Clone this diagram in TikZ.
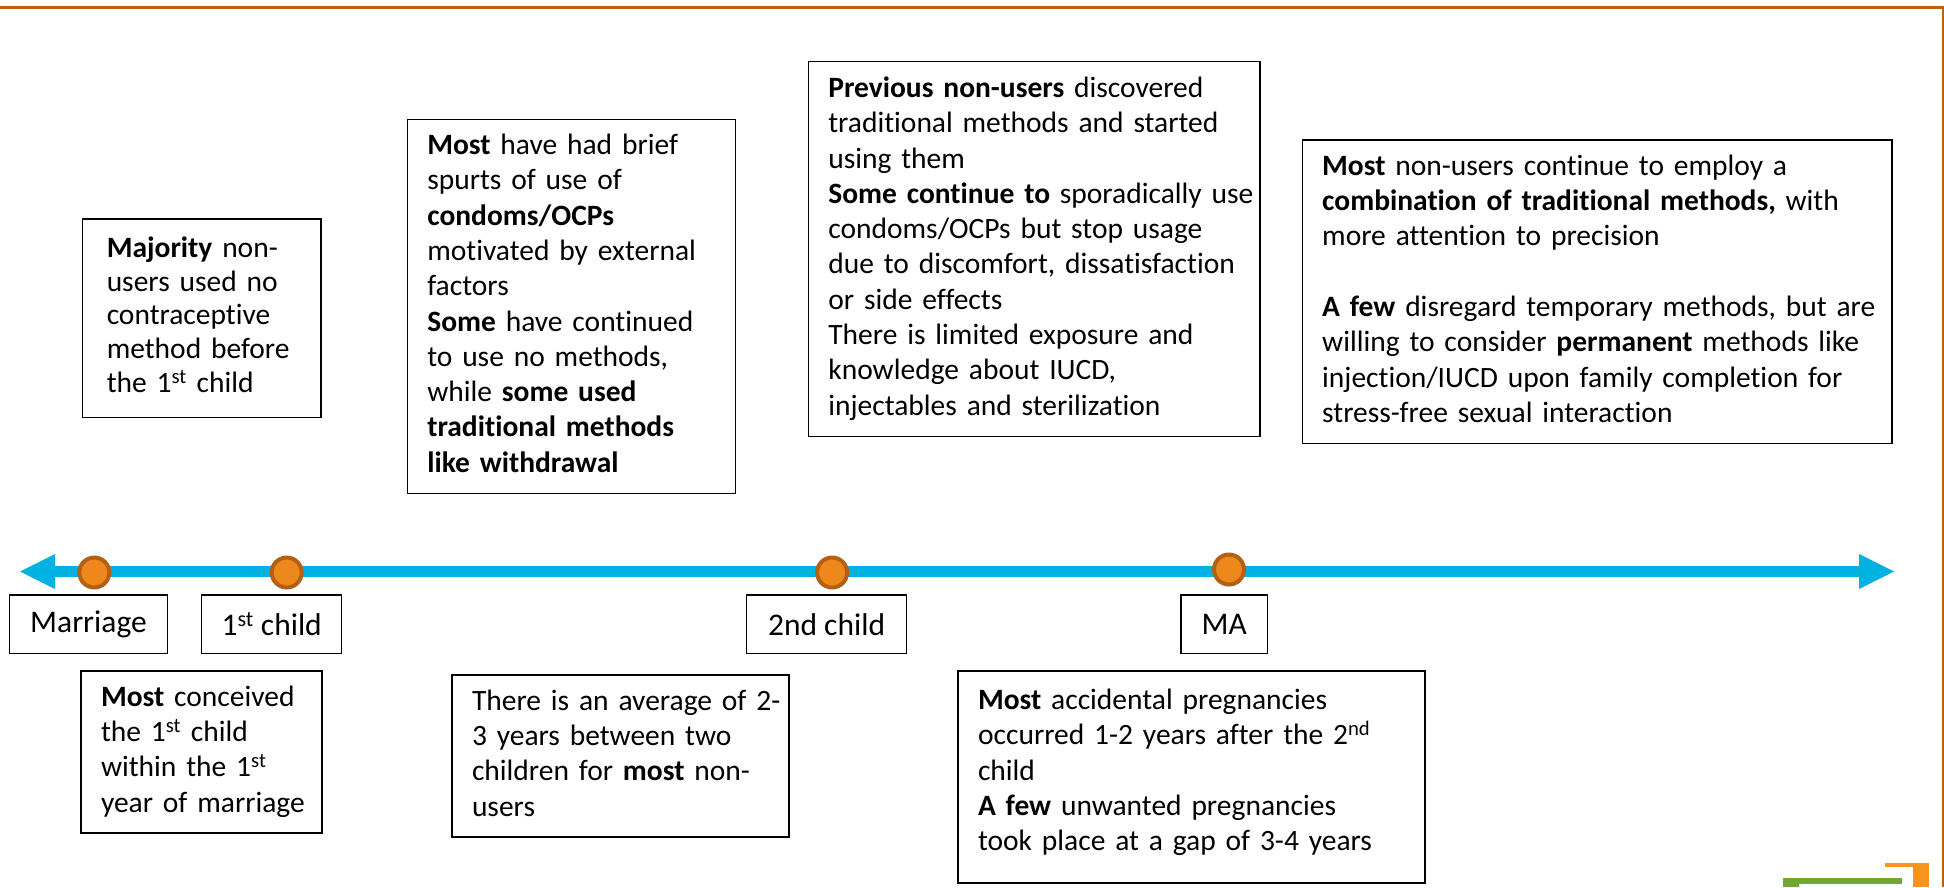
\documentclass[tikz,border=0pt]{standalone}
\usepackage{fontspec}
\setmainfont{Carlito}[Ligatures=NoCommon]
\definecolor{tlcyan}{RGB}{0,178,226}
\definecolor{dotfill}{RGB}{238,135,28}
\definecolor{dotedge}{RGB}{180,96,20}
\definecolor{framecol}{RGB}{184,98,20}
\definecolor{logoorange}{RGB}{247,148,30}
\definecolor{logogreen}{RGB}{114,167,52}
\newcommand{\boxlines}[1]{\begin{tabular}{@{}l@{}}#1\end{tabular}}
\begin{document}
\begin{tikzpicture}[x=1pt,y=-1pt,
  infobox/.style={draw=black, line width=1.2pt, rectangle, inner xsep=20pt, inner ysep=0pt,
    align=left, font=\fontsize{29.5}{35.3}\selectfont},
  tlabel/.style={draw=black, line width=1.2pt, rectangle, inner sep=0pt,
    minimum height=58.3pt, font=\fontsize{31.5}{36}\selectfont},
  tdot/.style={circle, draw=dotedge, fill=dotfill, line width=4pt, minimum size=30pt, inner sep=0pt},
  tline/.style={tlcyan, line width=11.5pt},
  thead/.style={fill=tlcyan},
  frameline/.style={framecol, line width=3pt}
]
\useasboundingbox (0,0) rectangle (1944,887);
\fill[white] (0,0) rectangle (1944,887);

% frame
\draw[frameline] (0,7) -- (1943,7) -- (1943,887);

% logo fragment
\fill[logoorange] (1885,863) rectangle (1929,866.5);
\fill[logoorange] (1913,863) rectangle (1929,887);
\fill[logogreen] (1783,878) rectangle (1902,883.5);
\fill[logogreen] (1783,878) rectangle (1799,887);

% timeline
\coordinate (tlL) at (20,571.5);
\coordinate (tlR) at (1894,571.5);
\draw[tline] ([xshift=34pt]tlL) -- ([xshift=-34pt]tlR);
\fill[thead] (tlL) -- ++(35,-17.5) -- ++(0,35) -- cycle;
\fill[thead] (tlR) -- ++(-35,-17.5) -- ++(0,35) -- cycle;

% dots
\node[tdot] (dm) at (94.3,572.5) {};
\node[tdot] (d1) at (286.7,572.5) {};
\node[tdot] (d2) at (832.1,572.5) {};
\node[tdot] (dma) at (1229,569.5) {};

% labels
\node[tlabel, minimum width=158.4pt] (lm) at (88.5,624.2) {Marriage};
\node[tlabel, minimum width=140pt] (l1) at (271.7,624.2) {1\textsuperscript{st} child};
\node[tlabel, minimum width=159.6pt] (l2) at (826.6,624.2) {2nd child};
\node[tlabel, minimum width=86.3pt] (lma) at (1224.2,624.2) {MA};

% upper boxes
\node[infobox, inner xsep=24pt, minimum width=238.3pt, minimum height=198.3pt, text width=190.3pt,
  font=\fontsize{29.5}{33.8}\selectfont] (maj) at (201.9,318.2)
 {\boxlines{\textbf{Majority} non-\\users used no\\contraceptive\\method before\\the 1\textsuperscript{st} child}};

\node[infobox, minimum width=328.4pt, minimum height=374pt, text width=288.4pt] (mhh) at (571.5,306.3)
 {\boxlines{\textbf{Most} have had brief\\spurts of use of\\\textbf{condoms/OCPs}\\motivated by external\\factors\\\textbf{Some} have continued\\to use no methods,\\while \textbf{some used}\\\textbf{traditional methods}\\\textbf{like withdrawal}}};

\node[infobox, minimum width=451.7pt, minimum height=375pt, text width=411.7pt] (prev) at (1034.2,249.2)
 {\boxlines{\textbf{Previous non-users} discovered\\traditional methods and started\\using them\\\textbf{Some continue to} sporadically use\\condoms/OCPs but stop usage\\due to discomfort, dissatisfaction\\or side effects\\There is limited exposure and\\knowledge about IUCD,\\injectables and sterilization}};

\node[infobox, minimum width=589.8pt, minimum height=303.3pt, text width=549.8pt] (mnu) at (1597.1,291.7)
 {\boxlines{\textbf{Most} non-users continue to employ a\\\textbf{combination of traditional methods,} with\\more attention to precision\\ \\\textbf{A few} disregard temporary methods, but are\\willing to consider \textbf{permanent} methods like\\injection/IUCD upon family completion for\\stress-free sexual interaction}};

% lower boxes
\node[infobox, minimum width=241pt, minimum height=162pt, text width=201pt] (mc) at (201.5,752)
 {\boxlines{\textbf{Most} conceived\\the 1\textsuperscript{st} child\\within the 1\textsuperscript{st}\\year of marriage}};

\node[infobox, minimum width=337pt, minimum height=162pt, text width=297pt] (avg) at (620.5,756)
 {\boxlines{There is an average of 2-\\3 years between two\\children for \textbf{most} non-\\users}};

\node[infobox, minimum width=467pt, minimum height=212pt, text width=427pt] (acc) at (1191.5,777)
 {\boxlines{\textbf{Most} accidental pregnancies\\occurred 1-2 years after the 2\textsuperscript{nd}\\child\\\textbf{A few} unwanted pregnancies\\took place at a gap of 3-4 years\\[8pt]}};
\end{tikzpicture}
\end{document}
